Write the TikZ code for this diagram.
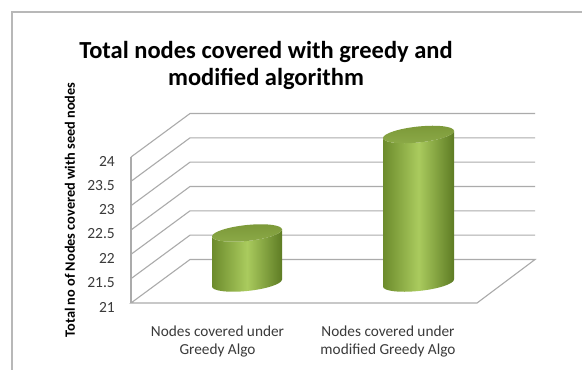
\documentclass[tikz,border=0pt]{standalone}
\usepackage{fontspec}
\setmainfont{Carlito}
\definecolor{gridc}{HTML}{ABABAB}
\definecolor{framec}{HTML}{B8B8B8}
\definecolor{gdark}{HTML}{6C8B2C}
\definecolor{glight}{HTML}{AACB5E}
\definecolor{gdark2}{HTML}{5E7C24}
\definecolor{gtop}{HTML}{8CAA48}
\definecolor{gtopd}{HTML}{7B9838}
\definecolor{txt}{HTML}{3A3A3A}
\tikzset{
  grid line/.style={draw=gridc, line width=1.1pt},
  frame line/.style={draw=framec, line width=1.4pt},
  tick/.style={font=\fontsize{15.5}{17}\selectfont, text=txt, anchor=east, inner sep=0pt},
  catlabel/.style={font=\fontsize{15.3}{17.5}\selectfont, text=txt, align=center, inner sep=0pt},
}
\newcommand{\mycyl}[5]{%
  % #1 cx, #2 rx, #3 ry, #4 ybot, #5 ytop
  \begin{scope}[shift={(#1pt,0)}, yslant=0.1]
    \shade[left color=gdark, right color=gdark2, middle color=glight]
      (-#2pt,#5pt) -- (-#2pt,#4pt)
      arc[start angle=180, end angle=360, x radius=#2pt, y radius=#3pt]
      -- (#2pt,#5pt)
      arc[start angle=0, end angle=-180, x radius=#2pt, y radius=#3pt] -- cycle;
    \shade[top color=gtopd, bottom color=gtop]
      (0,#5pt) ellipse [x radius=#2pt, y radius=#3pt];
  \end{scope}}
\begin{document}
\begin{tikzpicture}[x=1pt,y=1pt]
\useasboundingbox (0,0) rectangle (582,370);
\fill[white] (0,0) rectangle (582,370);
% frame
\draw[frame line] (12,0) -- (12,358) -- (582,358);
% floor
\draw[grid line] (131,67) -- (477,67) -- (535,110.5) -- (190,110.5) -- cycle;
% left wall vertical
\draw[grid line] (131,67) -- (131,213);
% gridlines
\foreach \v in {1,...,6}{
  \pgfmathsetmacro{\yf}{67+\v*24.33}
  \pgfmathsetmacro{\yb}{\yf+43.5}
  \draw[grid line] (131,\yf) -- (190,\yb) -- (535,\yb);
}
% tick labels
\foreach \lab [count=\i from 0] in {21,21.5,22,22.5,23,23.5,24}{
  \node[tick] (t\i) at (115,{67+\i*24.33-4}) {\lab};
}
% cylinders
\mycyl{247}{35}{8}{87}{137}
\mycyl{418.5}{35.5}{8}{87}{235.5}
% title
\node[font=\fontsize{24.5}{27}\selectfont\bfseries, align=center, inner sep=0pt] (title) at (266,304.5)
  {Total nodes covered with greedy and\\modified algorithm};
% y label
\node[font=\fontsize{14.3}{16}\selectfont\bfseries, rotate=90, inner sep=0pt] (ylab) at (70,160)
  {Total no of Nodes covered with seed nodes};
% category labels
\node[catlabel] (c1) at (217.5,28.5) {Nodes covered under\\Greedy Algo};
\node[catlabel] (c2) at (388,28.5) {Nodes covered under\\modified Greedy Algo};
\end{tikzpicture}
\end{document}
